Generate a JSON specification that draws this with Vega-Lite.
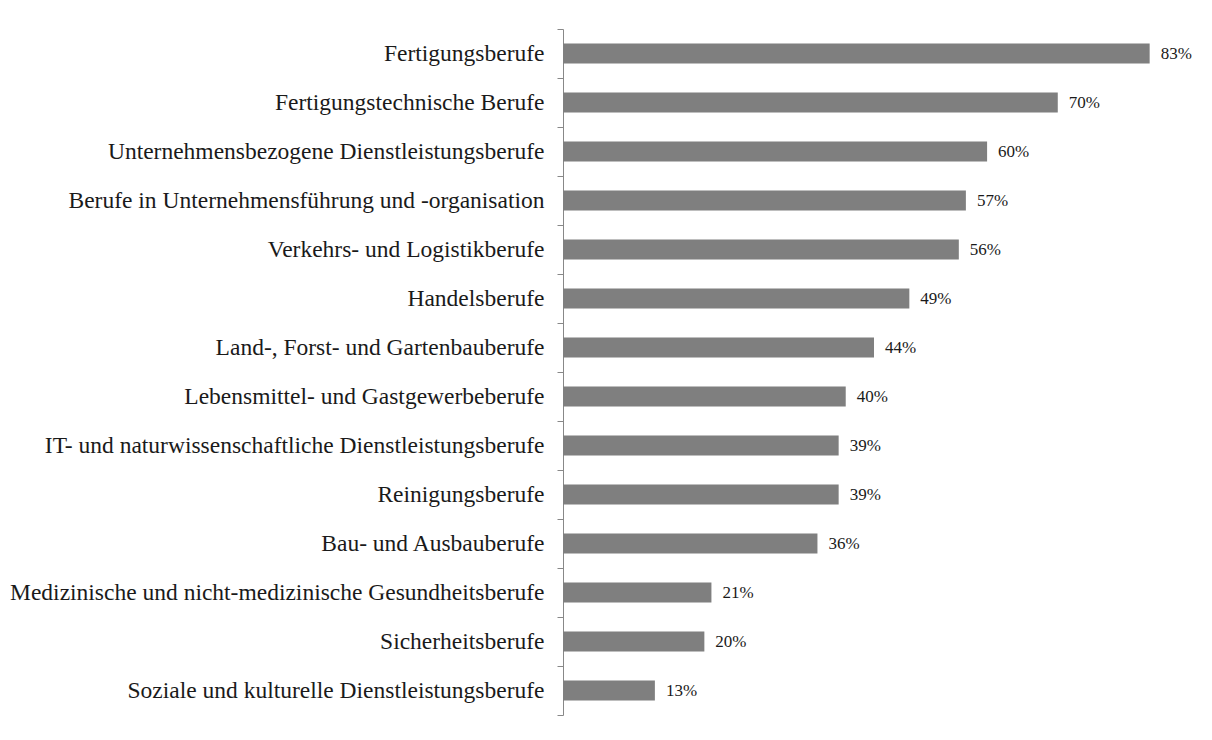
{
  "$schema": "https://vega.github.io/schema/vega-lite/v6.json",
  "autosize": "none",
  "padding": {"left": 563, "top": 29, "right": 27, "bottom": 25},
  "width": 622,
  "height": 686,
  "background": "white",
  "config": {
    "view": {"stroke": null},
    "font": "Liberation Serif"
  },
  "data": {
    "values": [
      {"beruf": "Fertigungsberufe", "anteil": 0.83},
      {"beruf": "Fertigungstechnische Berufe", "anteil": 0.70},
      {"beruf": "Unternehmensbezogene Dienstleistungsberufe", "anteil": 0.60},
      {"beruf": "Berufe in Unternehmensführung und -organisation", "anteil": 0.57},
      {"beruf": "Verkehrs- und Logistikberufe", "anteil": 0.56},
      {"beruf": "Handelsberufe", "anteil": 0.49},
      {"beruf": "Land-, Forst- und Gartenbauberufe", "anteil": 0.44},
      {"beruf": "Lebensmittel- und Gastgewerbeberufe", "anteil": 0.40},
      {"beruf": "IT- und naturwissenschaftliche Dienstleistungsberufe", "anteil": 0.39},
      {"beruf": "Reinigungsberufe", "anteil": 0.39},
      {"beruf": "Bau- und Ausbauberufe", "anteil": 0.36},
      {"beruf": "Medizinische und nicht-medizinische Gesundheitsberufe", "anteil": 0.21},
      {"beruf": "Sicherheitsberufe", "anteil": 0.20},
      {"beruf": "Soziale und kulturelle Dienstleistungsberufe", "anteil": 0.13}
    ]
  },
  "encoding": {
    "y": {
      "field": "beruf",
      "type": "nominal",
      "sort": null,
      "scale": {"paddingInner": 0, "paddingOuter": 0},
      "axis": {
        "title": null,
        "tickBand": "extent",
        "tickSize": 6,
        "tickColor": "#888888",
        "domainColor": "#888888",
        "labelFont": "Liberation Serif",
        "labelFontSize": 23.5,
        "labelColor": "#1a1a1a",
        "labelPadding": 13,
        "labelLimit": 600
      }
    },
    "x": {
      "field": "anteil",
      "type": "quantitative",
      "scale": {"domain": [0, 0.88], "nice": false},
      "axis": null
    }
  },
  "layer": [
    {"mark": {"type": "bar", "color": "#7f7f7f", "height": {"band": 0.41}}},
    {
      "mark": {"type": "text", "align": "left", "dx": 11, "font": "Liberation Serif", "fontSize": 17, "color": "#1a1a1a"},
      "encoding": {"text": {"field": "anteil", "type": "quantitative", "format": ".0%"}}
    }
  ]
}
